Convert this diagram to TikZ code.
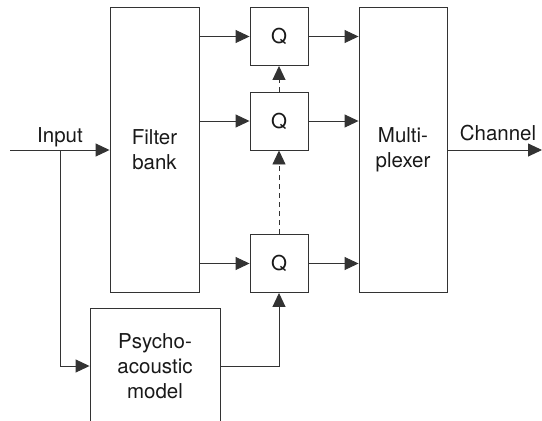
\documentclass[tikz,border=0pt]{standalone}
\usepackage{fontspec}
\setmainfont{TeX Gyre Heros}
\usetikzlibrary{arrows.meta}
\definecolor{ink}{gray}{0.2}
\tikzset{
  blk/.style={draw=ink, line width=0.9pt, inner sep=0pt, align=center, text=black!90},
  arr/.style={draw=ink, line width=0.9pt, -{Triangle[length=14pt 0,width=13pt 0]}},
}
\begin{document}
\begin{tikzpicture}[x=1pt, y=-1pt, font=\fontsize{20.5}{25}\selectfont]
  \path[use as bounding box, clip] (0,0) rectangle (542,421);
  % ブロック
  \node[blk, minimum width=89pt, minimum height=285pt] (fb) at (154.5,150) {Filter\\bank};
  \node[blk, minimum width=58pt, minimum height=58pt] (q1) at (279,36.5) {Q};
  \node[blk, minimum width=58pt, minimum height=58pt] (q2) at (279,121) {Q};
  \node[blk, minimum width=58pt, minimum height=58pt] (q3) at (279,263.5) {Q};
  \node[blk, minimum width=88pt, minimum height=285pt] (mux) at (403,150) {Multi-\\plexer};
  % 下端は図の外で切れる
  \node[blk, minimum width=130pt, minimum height=116pt] (pam) at (155,366) {Psycho-\\acoustic\\model};
  % 入出力
  \coordinate (in) at (10,150);
  \coordinate (split) at (60,150);
  \coordinate (out) at (542,150);
  \node[anchor=base, text=black!90] (inlabel) at (60,142) {Input};
  \node[anchor=base, text=black!90] (outlabel) at (498,140.5) {Channel};
  % 接続
  \draw[arr] (in) -- (fb);
  \draw[arr] (split) |- (pam);
  \draw[arr] (pam) -| (q3);
  \foreach \q in {q1,q2,q3} {
    \draw[arr] (\q -| fb.east) -- (\q);
    \draw[arr] (\q) -- (\q -| mux.west);
  }
  \draw[arr, dash pattern=on 5pt off 4pt] (q2) -- (q1);
  \draw[arr, dash pattern=on 5pt off 4pt] (q3) -- (q2);
  \draw[arr] (mux) -- (out);
\end{tikzpicture}
\end{document}
